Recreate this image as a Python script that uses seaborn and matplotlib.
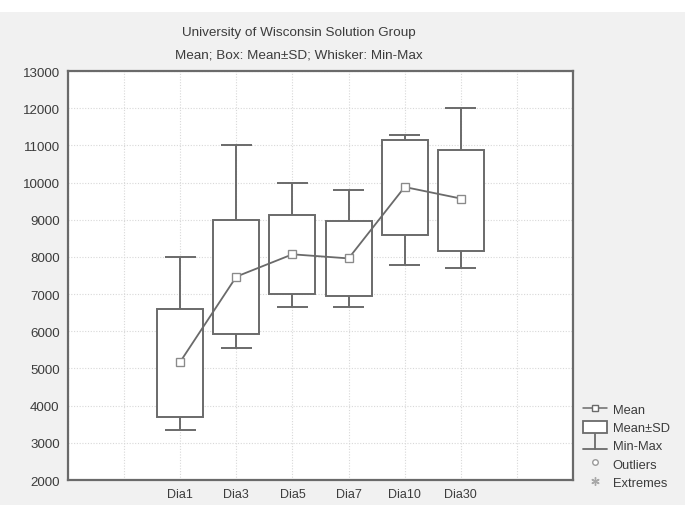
import matplotlib
matplotlib.use("Agg")
import matplotlib.pyplot as plt
import seaborn as sns
import pandas as pd
from matplotlib.lines import Line2D
from matplotlib.patches import Patch, Rectangle
from matplotlib.legend_handler import HandlerBase

# values
days = ["Dia1", "Dia3", "Dia5", "Dia7", "Dia10", "Dia30"]
means = [5180, 7470, 8070, 7960, 9880, 9570]
box_low = [3700, 5940, 7015, 6960, 8600, 8170]
box_high = [6610, 9000, 9120, 8960, 11140, 10870]
mins = [3340, 5560, 6640, 6640, 7770, 7690]
maxs = [8000, 11000, 10000, 9800, 11270, 12000]
y_ticks = list(range(2000, 13001, 1000))

gray = "#6a6a6a"
text_col = "#3c3c3c"


class WhiskerHandler(HandlerBase):
    # the little "⊥" min-max symbol in the legend
    def create_artists(self, legend, orig, xd, yd, width, height, fontsize, trans):
        cx = xd + width / 2
        y0 = yd - height * 0.1
        y1 = yd + height * 1.1
        v = Line2D([cx, cx], [y0, y1], color=gray, lw=1.3, transform=trans)
        h = Line2D([xd, xd + width], [y0, y0], color=gray, lw=1.3, transform=trans)
        return [v, h]


sns.set_style("white")
plt.rcParams["font.family"] = ["Liberation Sans", "DejaVu Sans"]

fig = plt.figure(figsize=(6.85, 5.06), dpi=100, facecolor="#f1f1f1")
fig.patches.append(Rectangle((0, 0.975), 1, 0.025, transform=fig.transFigure,
                             facecolor="white", edgecolor="none", zorder=0))
ax = fig.add_axes([0.0993, 0.0494, 0.7372, 0.8083])
ax.set_facecolor("white")

df = pd.DataFrame({"day": days, "mean": means})
pos = list(range(len(days)))

# Mean±SD boxes
ax.bar(pos, [h - l for h, l in zip(box_high, box_low)], bottom=box_low, width=0.82,
       facecolor="white", edgecolor=gray, linewidth=1.4, zorder=2)
# Min-Max whiskers
ax.vlines(pos, box_high, maxs, color=gray, lw=1.4, zorder=2)
ax.vlines(pos, mins, box_low, color=gray, lw=1.4, zorder=2)
ax.hlines(maxs, [p - 0.28 for p in pos], [p + 0.28 for p in pos], color=gray, lw=1.4, zorder=2)
ax.hlines(mins, [p - 0.28 for p in pos], [p + 0.28 for p in pos], color=gray, lw=1.4, zorder=2)

# mean line
sns.pointplot(data=df, x="day", y="mean", ax=ax, color=gray, marker="s",
              markersize=6, markerfacecolor="white", markeredgecolor="#8a8a8a",
              linewidth=1.3, zorder=4)

ax.set_xlim(-2, 7)
ax.set_ylim(2000, 13000)
ax.set_xticks(range(-2, 8))
ax.set_xticklabels(["", ""] + days + ["", ""])
ax.set_yticks(y_ticks)
ax.set_xlabel("")
ax.set_ylabel("")
ax.grid(True, color="#d8d8d8", linestyle=(0, (1, 1.5)), linewidth=0.8, zorder=0)
ax.set_axisbelow(True)
ax.tick_params(direction="in", length=3, width=1, colors=gray, labelcolor=text_col, pad=6)
ax.tick_params(axis="x", labelsize=9)
ax.tick_params(axis="y", labelsize=9.6)
for sp in ax.spines.values():
    sp.set_color(gray)
    sp.set_linewidth(1.6)

fig.text(0.436, 0.934, "University of Wisconsin Solution Group", ha="center",
         va="center", fontsize=9.7, color=text_col)
fig.text(0.436, 0.891, "Mean; Box: Mean\u00b1SD; Whisker: Min-Max", ha="center",
         va="center", fontsize=9.7, color=text_col)

handles = [
    Line2D([], [], color=gray, marker="s", markersize=5, markerfacecolor="white", lw=1.1),
    Patch(facecolor="white", edgecolor=gray, linewidth=1.3),
    Line2D([], [], color=gray),
    Line2D([], [], linestyle="none", marker="o", markersize=4, markerfacecolor="white",
           markeredgecolor="#9a9a9a"),
    Line2D([], [], linestyle="none", marker=(6, 2, 0), markersize=6, markeredgecolor="#a8a8a8"),
]
labels = ["Mean", "Mean\u00b1SD", "Min-Max", "Outliers", "Extremes"]
fig.legend(handles, labels, loc="upper left", bbox_to_anchor=(0.851, 0.203),
           frameon=False, fontsize=9.3, handlelength=1.85, handleheight=1.1,
           handletextpad=0.45, labelspacing=0.36, borderpad=0, borderaxespad=0,
           labelcolor=text_col, handler_map={handles[2]: WhiskerHandler()})

fig.savefig("out.png", dpi=100, facecolor=fig.get_facecolor())
